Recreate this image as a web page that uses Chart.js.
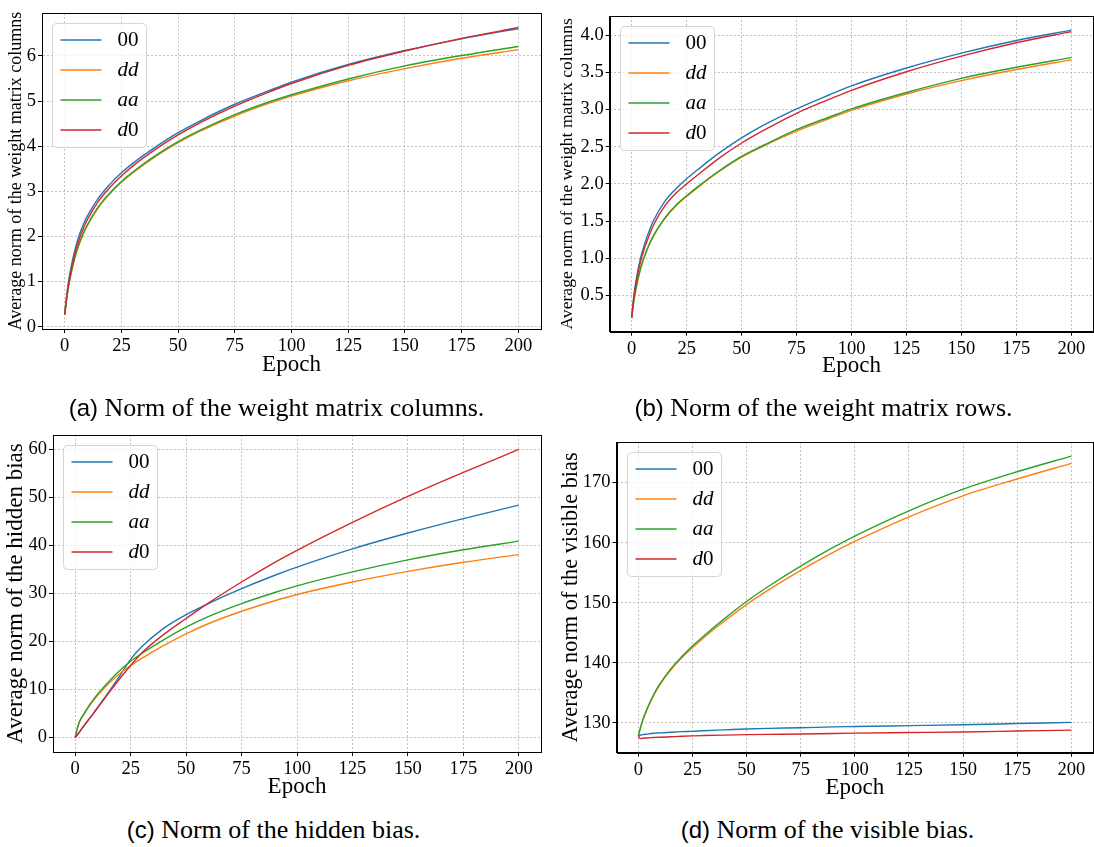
<!DOCTYPE html>
<html>
<head>
<meta charset="utf-8">
<script src="https://cdn.jsdelivr.net/npm/chart.js@4.4.0/dist/chart.umd.min.js"></script>
<style>
  body { margin: 0; background: #fff; }
  #fig { position: relative; width: 1094px; height: 847px; overflow: hidden; }
  canvas { position: absolute; }
  .cap { position: absolute; width: 547px; text-align: center; font: 26px "Liberation Serif", serif; line-height: 30px; color: #000; white-space: nowrap; }
  .cap .sf { font-family: "Liberation Sans", sans-serif; font-size: 24px; }
</style>
</head>
<body>
<div id="fig">
  <canvas id="chartA" width="547" height="379" style="left:0;top:0"></canvas>
  <canvas id="chartB" width="547" height="380" style="left:547px;top:0"></canvas>
  <canvas id="chartC" width="547" height="381" style="left:0;top:420px"></canvas>
  <canvas id="chartD" width="547" height="382" style="left:547px;top:420px"></canvas>
  <div class="cap" style="left:3px;top:393px"><span class="sf">(a)</span> Norm of the weight matrix columns.</div>
  <div class="cap" style="left:550px;top:393px"><span class="sf">(b)</span> Norm of the weight matrix rows.</div>
  <div class="cap" style="left:0;top:815px"><span class="sf">(c)</span> Norm of the hidden bias.</div>
  <div class="cap" style="left:554px;top:815px"><span class="sf">(d)</span> Norm of the visible bias.</div>
</div>
<script>
/* epochs at which the curves were read */
const epochs = [0, 1, 2, 4, 6, 8, 10, 15, 20, 25, 30, 40, 50, 60, 75, 90, 100, 125, 150, 175, 200];
const seriesNames = ['00', 'dd', 'aa', 'd0'];
const seriesColors = ['#1f77b4', '#ff7f0e', '#2ca02c', '#d62728'];
const xTicks = [0, 25, 50, 75, 100, 125, 150, 175, 200];

/* (a) norm of the weight matrix columns */
const colNorm00 = [0.27, 0.75, 1.1, 1.6, 1.97, 2.24, 2.45, 2.86, 3.16, 3.41, 3.62, 3.98, 4.3, 4.57, 4.93, 5.23, 5.42, 5.81, 6.12, 6.38, 6.61];
const colNormDD = [0.27, 0.66, 0.97, 1.43, 1.77, 2.03, 2.24, 2.65, 2.95, 3.2, 3.41, 3.77, 4.08, 4.34, 4.67, 4.95, 5.11, 5.45, 5.72, 5.95, 6.14];
const colNormAA = [0.27, 0.67, 0.98, 1.45, 1.79, 2.05, 2.26, 2.67, 2.97, 3.22, 3.43, 3.79, 4.1, 4.36, 4.7, 4.98, 5.14, 5.49, 5.78, 6.01, 6.21];
const colNormD0 = [0.27, 0.7, 1.03, 1.52, 1.88, 2.15, 2.37, 2.79, 3.09, 3.34, 3.56, 3.93, 4.25, 4.53, 4.89, 5.2, 5.39, 5.79, 6.11, 6.39, 6.63];
const colTicks = [0, 1, 2, 3, 4, 5, 6];

/* (b) norm of the weight matrix rows */
const rowNorm00 = [0.2, 0.5, 0.7, 1.0, 1.2, 1.37, 1.51, 1.76, 1.93, 2.07, 2.19, 2.42, 2.62, 2.79, 3.01, 3.2, 3.32, 3.56, 3.76, 3.93, 4.07];
const rowNormDD = [0.2, 0.42, 0.59, 0.85, 1.03, 1.18, 1.3, 1.53, 1.7, 1.83, 1.95, 2.17, 2.36, 2.51, 2.71, 2.88, 2.99, 3.21, 3.39, 3.54, 3.67];
const rowNormAA = [0.2, 0.43, 0.6, 0.86, 1.04, 1.19, 1.31, 1.54, 1.71, 1.84, 1.96, 2.18, 2.37, 2.52, 2.73, 2.9, 3.01, 3.23, 3.42, 3.57, 3.7];
const rowNormD0 = [0.2, 0.47, 0.66, 0.95, 1.15, 1.31, 1.45, 1.7, 1.87, 2.0, 2.12, 2.35, 2.55, 2.72, 2.95, 3.14, 3.26, 3.51, 3.72, 3.9, 4.05];
const rowTicks = [0.5, 1.0, 1.5, 2.0, 2.5, 3.0, 3.5, 4.0];

/* (c) norm of the hidden bias */
const hidBias00 = [0, 0.6, 1.2, 2.5, 3.7, 4.9, 6.2, 9.4, 12.8, 16.3, 18.9, 22.8, 25.6, 27.9, 31.0, 33.8, 35.5, 39.3, 42.6, 45.6, 48.4];
const hidBiasDD = [0, 1.9, 3.3, 4.9, 6.3, 7.6, 8.7, 11.2, 13.3, 15.0, 16.5, 19.2, 21.6, 23.7, 26.3, 28.5, 29.8, 32.4, 34.6, 36.5, 38.1];
const hidBiasAA = [0, 2.0, 3.4, 5.0, 6.5, 7.8, 9.0, 11.6, 13.9, 15.9, 17.5, 20.4, 23.0, 25.2, 27.9, 30.2, 31.6, 34.5, 37.0, 39.1, 40.9];
const hidBiasD0 = [0, 0.6, 1.2, 2.5, 3.7, 4.9, 6.1, 9.2, 12.2, 15.0, 17.6, 21.5, 24.8, 28.0, 32.4, 36.5, 39.0, 44.8, 50.2, 55.2, 60.0];
const hidTicks = [0, 10, 20, 30, 40, 50, 60];

/* (d) norm of the visible bias */
const visBias00 = [127.8, 127.95, 128.05, 128.15, 128.25, 128.3, 128.35, 128.45, 128.55, 128.6, 128.7, 128.85, 129.0, 129.1, 129.2, 129.35, 129.4, 129.55, 129.7, 129.9, 130.1];
const visBiasDD = [127.8, 129.1, 130.3, 132.2, 133.8, 135.2, 136.4, 138.8, 140.8, 142.5, 144.1, 147.0, 149.7, 152.1, 155.4, 158.4, 160.2, 164.3, 167.8, 170.6, 173.2];
const visBiasAA = [127.8, 129.2, 130.4, 132.3, 133.9, 135.3, 136.5, 139.0, 141.0, 142.8, 144.4, 147.4, 150.2, 152.7, 156.1, 159.2, 161.1, 165.3, 168.9, 171.8, 174.4];
const visBiasD0 = [127.8, 127.4, 127.45, 127.5, 127.55, 127.6, 127.62, 127.7, 127.78, 127.85, 127.9, 127.98, 128.05, 128.1, 128.15, 128.25, 128.3, 128.4, 128.5, 128.65, 128.8];
const visTicks = [130, 140, 150, 160, 170];

Chart.defaults.font.family = '"Liberation Serif", serif';
Chart.defaults.color = '#000';

/* black box round the axes, like matplotlib spines */
const spines = {
    id: 'spines',
    afterDatasetsDraw(chart) {
        const {ctx, chartArea: a} = chart;
        ctx.save();
        ctx.strokeStyle = '#000';
        ctx.lineWidth = 1;
        ctx.strokeRect(Math.round(a.left) + 0.5, Math.round(a.top) + 0.5,
            Math.round(a.right) - Math.round(a.left), Math.round(a.bottom) - Math.round(a.top));
        ctx.restore();
    }
};

/* legend box in the upper left, letters italic as in math mode */
const mplLegend = {
    id: 'mplLegend',
    afterDraw(chart) {
        const {ctx, chartArea: a} = chart;
        const x0 = Math.round(a.left) + 10.5, y0 = Math.round(a.top) + 10.5;
        ctx.save();
        ctx.beginPath();
        ctx.roundRect(x0, y0, 94, 124, 4);
        ctx.fillStyle = 'rgba(255,255,255,0.8)';
        ctx.fill();
        ctx.strokeStyle = '#d5d5d5';
        ctx.lineWidth = 1;
        ctx.stroke();
        chart.data.datasets.forEach((ds, i) => {
            const y = y0 + 16.5 + i * 30;
            ctx.strokeStyle = ds.borderColor;
            ctx.lineWidth = 1.4;
            ctx.beginPath();
            ctx.moveTo(x0 + 8, y);
            ctx.lineTo(x0 + 49, y);
            ctx.stroke();
            let tx = x0 + 65;
            ctx.fillStyle = '#000';
            ctx.textBaseline = 'middle';
            for (const ch of ds.label) {
                ctx.font = (/[a-z]/i.test(ch) ? 'italic ' : '') + '21px "Liberation Serif"';
                ctx.fillText(ch, tx, y);
                tx += ctx.measureText(ch).width;
            }
        });
        ctx.restore();
    }
};

function makePanel(id, series, yTicks, yMin, yMax, yTitle, area, fmt) {
    const canvas = document.getElementById(id);
    const W = canvas.width, H = canvas.height;
    return new Chart(canvas, {
        type: 'line',
        data: {
            datasets: series.map((vals, i) => ({
                label: seriesNames[i],
                data: epochs.map((e, k) => ({x: e, y: vals[k]})),
                borderColor: seriesColors[i],
                borderWidth: 1.4,
                pointRadius: 0,
                cubicInterpolationMode: 'monotone',
                fill: false,
                order: series.length - i,
            }))
        },
        options: {
            responsive: false,
            animation: false,
            devicePixelRatio: 1,
            layout: {padding: {left: 0, top: area.top, right: W - area.right, bottom: 0}},
            plugins: {legend: {display: false}, tooltip: {enabled: false}},
            scales: {
                x: {
                    type: 'linear',
                    min: -10, max: 210,
                    afterBuildTicks: (s) => { s.ticks = xTicks.map(v => ({value: v})); },
                    afterFit: (s) => { s.height = H - area.bottom; },
                    ticks: {font: {size: 18.5}, padding: 2, maxRotation: 0},
                    grid: {color: '#b4b4b4', lineWidth: 0.8, tickColor: '#000', tickLength: 4, tickWidth: 1, tickBorderDash: []},
                    border: {color: '#000', width: 1, dash: [2, 2]},
                    title: {display: true, text: 'Epoch', font: {size: 23}, padding: 0},
                },
                y: {
                    type: 'linear',
                    min: yMin, max: yMax,
                    afterBuildTicks: (s) => { s.ticks = yTicks.map(v => ({value: v})); },
                    afterFit: (s) => { s.width = area.left; },
                    ticks: {font: {size: 18.5}, padding: 2, callback: fmt},
                    grid: {color: '#b4b4b4', lineWidth: 0.8, tickColor: '#000', tickLength: 4, tickWidth: 1, tickBorderDash: []},
                    border: {color: '#000', width: 1, dash: [2, 2]},
                    title: {display: true, text: yTitle.text, font: {size: yTitle.size}, padding: {top: yTitle.pad, bottom: 0}},
                }
            }
        },
        plugins: [spines, mplLegend]
    });
}

makePanel('chartA', [colNorm00, colNormDD, colNormAA, colNormD0], colTicks, -0.05, 6.95,
    {text: 'Average norm of the weight matrix columns', size: 18, pad: 5},
    {left: 42, top: 6, right: 541, bottom: 329}, (v) => String(v));
makePanel('chartB', [rowNorm00, rowNormDD, rowNormAA, rowNormD0], rowTicks, 0.01, 4.26,
    {text: 'Average norm of the weight matrix columns', size: 17.6, pad: 10},
    {left: 62.7, top: 16, right: 546.3, bottom: 331.7}, (v) => v.toFixed(1));
makePanel('chartC', [hidBias00, hidBiasDD, hidBiasAA, hidBiasD0], hidTicks, -3, 63,
    {text: 'Average norm of the hidden bias', size: 23, pad: 2},
    {left: 53, top: 15, right: 541, bottom: 332}, (v) => String(v));
makePanel('chartD', [visBias00, visBiasDD, visBiasAA, visBiasD0], visTicks, 125.05, 176.75,
    {text: 'Average norm of the visible bias', size: 22.3, pad: 11},
    {left: 69.6, top: 22, right: 546, bottom: 332.7}, (v) => String(v));
</script>
</body>
</html>
